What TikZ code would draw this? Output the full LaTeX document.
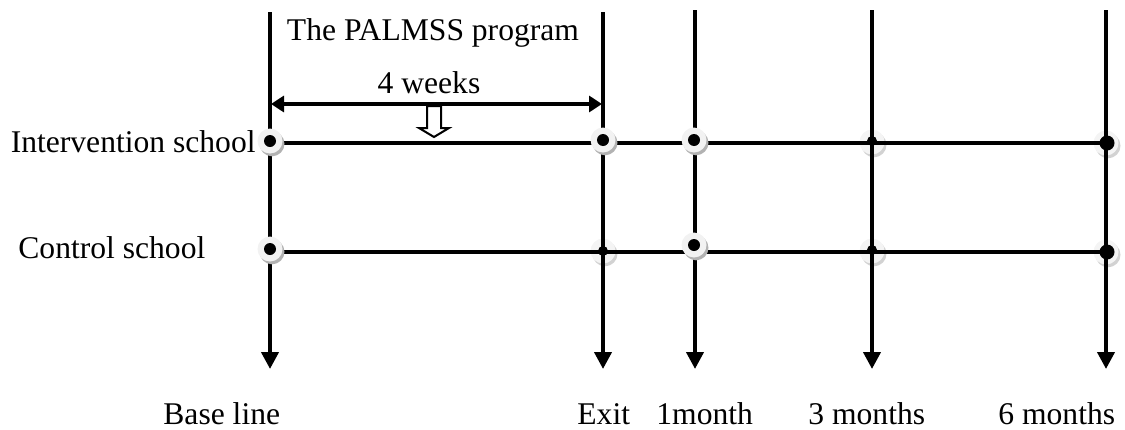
\documentclass[tikz,border=0pt]{standalone}
\usepackage{fontspec}
\setmainfont{Liberation Serif}
\usetikzlibrary{arrows.meta,shadows}
\begin{document}
\begin{tikzpicture}[x=0.5pt,y=-0.5pt,
  lbl/.style={font=\fontsize{15.8}{18}\selectfont, inner sep=0pt},
  rule/.style={line width=2pt},
  timeline/.style={line width=2pt,-{Triangle[length=8.5pt,width=8.5pt]}},
  span/.style={line width=2pt,{Triangle[length=6.5pt,width=8pt]}-{Triangle[length=6.5pt,width=8pt]}},
  halo/.style={circle,fill=gray!10,minimum size=12.5pt,inner sep=0pt,
    drop shadow={shadow xshift=1pt,shadow yshift=-1.4pt,fill=gray!60,opacity=1}},
  faint/.style={circle,fill=gray!9,minimum size=12.5pt,inner sep=0pt,
    drop shadow={shadow xshift=1pt,shadow yshift=-1.4pt,fill=gray!35,opacity=1}},
  dot/.style={circle,fill=black,minimum size=6pt,inner sep=0pt},
  smalldot/.style={circle,fill=black,minimum size=5pt,inner sep=0pt},
  bigdot/.style={circle,fill=black,minimum size=7.5pt,inner sep=0pt},
  hollow/.style={draw=black,line width=1pt,fill=white,line join=miter}
]
\useasboundingbox (0,0) rectangle (1125,429);

% time points: tops and arrow tips of the vertical lines
\coordinate (t0) at (270,12);   \coordinate (b0) at (270,369);
\coordinate (t1) at (603,12);   \coordinate (b1) at (603,369);
\coordinate (t2) at (695,10);   \coordinate (b2) at (695,369);
\coordinate (t3) at (872,10);   \coordinate (b3) at (872,369);
\coordinate (t4) at (1106,10);  \coordinate (b4) at (1106,369);

% group lines
\coordinate (iL) at (270,143);  \coordinate (iR) at (1106,143);
\coordinate (cL) at (270,252);  \coordinate (cR) at (1106,252);

% halos lying behind the lines
\node[faint] (hc1) at (603,251) {};
\node[faint] (hi3) at (872,142) {};
\node[faint] (hc3) at (872,251) {};
\node[faint] (hi4) at (1106,143) {};
\node[faint] (hc4) at (1106,252) {};

% lines
\foreach \k in {0,...,4} \draw[timeline] (t\k) -- (b\k);
\draw[rule] (iL) -- (iR);
\draw[rule] (cL) -- (cR);

% halos covering the lines
\node[halo] (hi0) at (270,141) {};
\node[halo] (hi1) at (603,140) {};
\node[halo] (hi2) at (694,140) {};
\node[halo] (hc0) at (270,249) {};
\node[halo] (hc2) at (694,245) {};

% measurement dots
\node[dot] at (hi0) {};
\node[dot] at (hi1) {};
\node[dot] at (hi2) {};
\node[dot] at (hc0) {};
\node[dot] at (hc2) {};
\node[smalldot] at (603,251) {};
\node[smalldot] at (872,141) {};
\node[smalldot] at (872,250) {};
\node[bigdot] at (1107,143) {};
\node[bigdot] at (1107,252) {};

% programme span
\coordinate (s0) at (271,104);
\coordinate (s1) at (602,104);
\draw[span] (s0) -- (s1);
\draw[hollow] (427,106) -- (441,106) -- (441,128) -- (449,128) -- (434,137)
  -- (419,128) -- (427,128) -- cycle;

% labels
\node[lbl,anchor=base] (prog) at (433,40) {The PALMSS program};
\node[lbl,anchor=base] (wk) at (429,93) {4 weeks};
\node[lbl,anchor=base east] (gi) at (256,152) {Intervention school};
\node[lbl,anchor=base west] (gc) at (18,258) {Control school};
\node[lbl,anchor=base west] (l0) at (163,424) {Base line};
\node[lbl,anchor=base west] (l1) at (577,424) {Exit};
\node[lbl,anchor=base west] (l2) at (656,424) {1month};
\node[lbl,anchor=base west] (l3) at (808,424) {3 months};
\node[lbl,anchor=base west] (l4) at (998,424) {6 months};
\end{tikzpicture}
\end{document}
